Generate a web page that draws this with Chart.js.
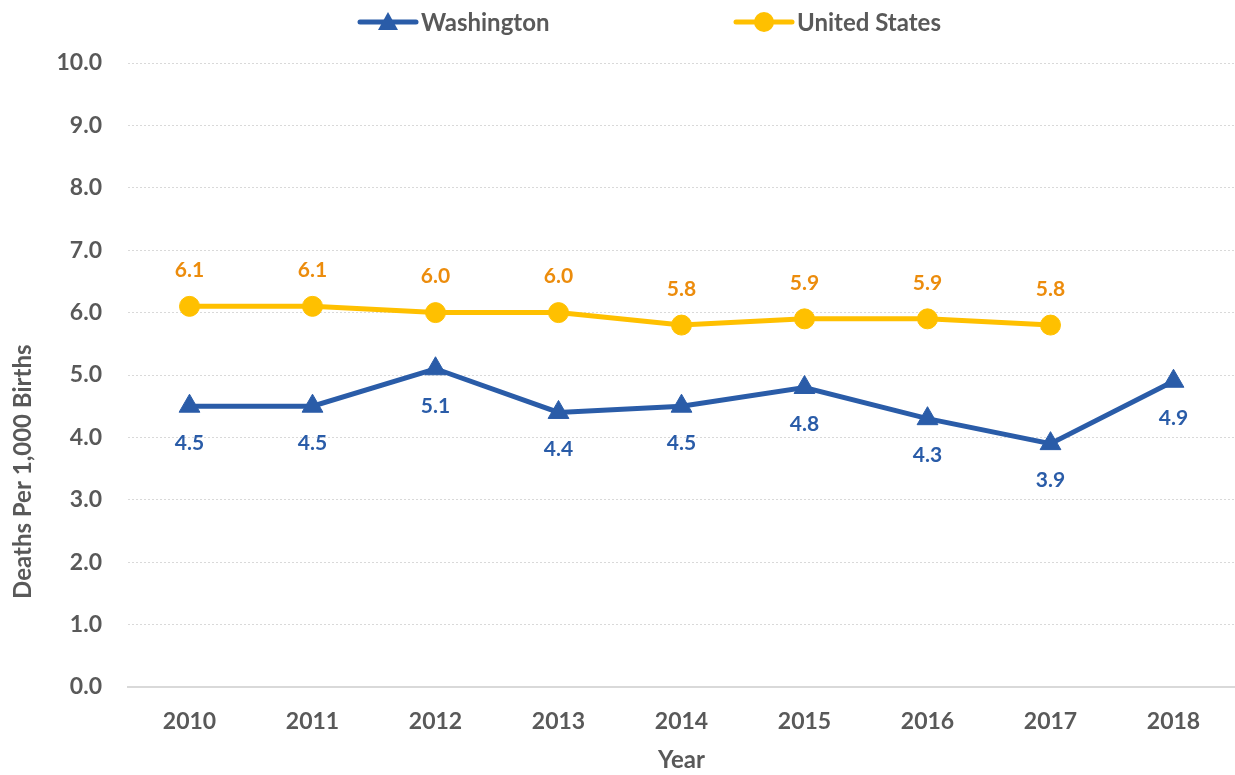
<!DOCTYPE html>
<html>
<head>
<meta charset="utf-8">
<script src="https://cdn.jsdelivr.net/npm/chart.js@4.4.1/dist/chart.umd.min.js"></script>
<style>
  html, body { margin: 0; padding: 0; background: #ffffff; overflow: hidden; }
  #wrap { width: 1235px; height: 775px; }
  canvas { display: block; }
</style>
</head>
<body>
<div id="wrap"><canvas id="c" width="1235" height="775"></canvas></div>
<script>
const categories = ['2010', '2011', '2012', '2013', '2014', '2015', '2016', '2017', '2018'];
const washington = [4.5, 4.5, 5.1, 4.4, 4.5, 4.8, 4.3, 3.9, 4.9];
const unitedStates = [6.1, 6.1, 6.0, 6.0, 5.8, 5.9, 5.9, 5.8, null];
const seriesNames = ['Washington', 'United States'];
const yTitle = 'Deaths Per 1,000 Births';
const xTitle = 'Year';

const FONT = 'Lato, "Open Sans", sans-serif';
const TEXT = '#595959';
const BLUE = '#2A5CA8';
const GOLD = '#FFC000';
const ORANGE = '#EC8C0C';

const labelPlugin = {
  id: 'valueLabels',
  afterDatasetsDraw(chart) {
    const ctx = chart.ctx;
    ctx.save();
    ctx.font = 'bold 21px ' + FONT;
    ctx.textAlign = 'center';
    ctx.textBaseline = 'middle';
    chart.data.datasets.forEach((ds, i) => {
      const meta = chart.getDatasetMeta(i);
      const off = ds.labelOffset;
      ctx.fillStyle = ds.labelColor;
      meta.data.forEach((pt, j) => {
        const v = ds.data[j];
        if (v === null || v === undefined) return;
        ctx.fillText(v.toFixed(1), pt.x, pt.y + off);
      });
    });
    ctx.restore();
  }
};

const yTitlePlugin = {
  id: 'yTitle',
  afterDraw(chart) {
    const ctx = chart.ctx;
    const a = chart.chartArea;
    const cy = a.top + (a.bottom - a.top) * 0.655;
    ctx.save();
    ctx.translate(23, cy);
    ctx.rotate(-Math.PI / 2);
    ctx.fillStyle = TEXT;
    ctx.font = 'bold 24px ' + FONT;
    ctx.textAlign = 'center';
    ctx.textBaseline = 'middle';
    ctx.fillText(yTitle, 0, 0);
    ctx.restore();
  }
};

const legendPlugin = {
  id: 'customLegend',
  afterDraw(chart) {
    const ctx = chart.ctx;
    const items = [
      { ds: chart.data.datasets[0], x: 360 },
      { ds: chart.data.datasets[1], x: 736 }
    ];
    const y = 22;
    ctx.save();
    items.forEach(it => {
      const ds = it.ds;
      const cx = it.x + 28;
      ctx.strokeStyle = ds.borderColor;
      ctx.lineWidth = 5;
      ctx.lineCap = 'round';
      ctx.beginPath();
      ctx.moveTo(it.x, y);
      ctx.lineTo(it.x + 56, y);
      ctx.stroke();
      ctx.fillStyle = ds.borderColor;
      ctx.beginPath();
      if (ds.pointStyle === 'triangle') {
        ctx.moveTo(cx, y - 10);
        ctx.lineTo(cx + 10, y + 8);
        ctx.lineTo(cx - 10, y + 8);
        ctx.closePath();
      } else {
        ctx.arc(cx, y, 10, 0, Math.PI * 2);
      }
      ctx.fill();
      ctx.fillStyle = TEXT;
      ctx.font = 'bold 24px ' + FONT;
      ctx.textAlign = 'left';
      ctx.textBaseline = 'middle';
      ctx.fillText(ds.label, it.x + 61, y + 1);
    });
    ctx.restore();
  }
};

new Chart(document.getElementById('c'), {
  type: 'line',
  data: {
    labels: categories,
    datasets: [
      {
        label: seriesNames[0],
        data: washington,
        borderColor: BLUE,
        backgroundColor: BLUE,
        borderWidth: 5,
        pointStyle: 'triangle',
        pointRadius: 12,
        pointHoverRadius: 12,
        pointBorderWidth: 1,
        tension: 0,
        labelColor: BLUE,
        labelOffset: 37
      },
      {
        label: seriesNames[1],
        data: unitedStates,
        borderColor: GOLD,
        backgroundColor: GOLD,
        borderWidth: 5,
        pointStyle: 'circle',
        pointRadius: 10,
        pointHoverRadius: 10,
        pointBorderWidth: 1,
        tension: 0,
        spanGaps: false,
        labelColor: ORANGE,
        labelOffset: -36
      }
    ]
  },
  options: {
    responsive: false,
    animation: false,
    clip: false,
    layout: { autoPadding: false, padding: { top: 63, right: 0, left: 0, bottom: 0 } },
    plugins: {
      legend: { display: false },
      tooltip: { enabled: false }
    },
    scales: {
      x: {
        type: 'category',
        offset: true,
        grid: { display: false, drawTicks: false },
        border: { display: true, color: '#D9D9D9', width: 2 },
        ticks: {
          color: TEXT,
          font: { family: FONT, size: 23, weight: 'bold' },
          padding: 21,
          maxRotation: 0
        },
        title: {
          display: true,
          text: xTitle,
          color: TEXT,
          font: { family: FONT, size: 24, weight: 'bold' },
          padding: { top: 0, bottom: 0 }
        },
        afterFit(s) { s.height = 88; s.paddingLeft = 0; s.paddingRight = 0; }
      },
      y: {
        min: 0,
        max: 10,
        grid: { color: '#D9D9D9', lineWidth: 1, drawTicks: false },
        border: { display: false, dash: [2, 2] },
        ticks: {
          stepSize: 1,
          color: TEXT,
          font: { family: FONT, size: 23, weight: 'bold' },
          padding: 26,
          callback: v => Number(v).toFixed(1)
        },
        title: { display: false },
        afterFit(s) { s.width = 128; }
      }
    }
  },
  plugins: [labelPlugin, legendPlugin, yTitlePlugin]
});
</script>
</body>
</html>
